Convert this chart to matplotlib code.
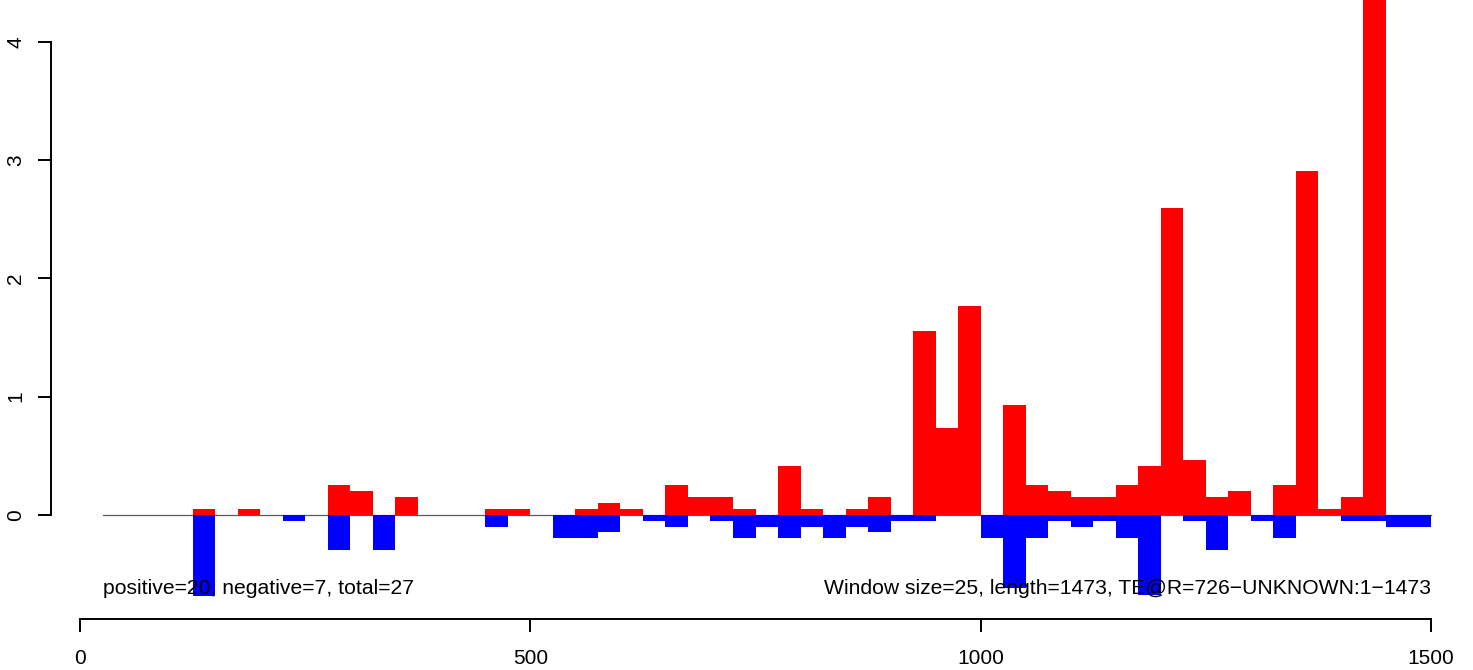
import matplotlib
matplotlib.use('Agg')
import matplotlib.pyplot as plt

plt.rcParams['font.family'] = ['Liberation Sans', 'DejaVu Sans']

window = 25
seq_length = 1473

# signal per 25 bp window (windows 1..59)
positive = [0, 0, 0, 0, 0.05, 0, 0.05, 0, 0, 0,
            0.25, 0.2, 0, 0.15, 0, 0, 0, 0.05, 0.05, 0,
            0, 0.05, 0.1, 0.05, 0, 0.25, 0.15, 0.15, 0.05, 0,
            0.41, 0.05, 0, 0.05, 0.15, 0, 1.555, 0.73, 1.77, 0,
            0.93, 0.25, 0.2, 0.15, 0.15, 0.25, 0.41, 2.6, 0.46, 0.15,
            0.2, 0, 0.25, 2.91, 0.05, 0.15, 4.4, 0, 0]
negative = [0, 0, 0, 0, 0.69, 0, 0, 0, 0.05, 0,
            0.3, 0, 0.3, 0, 0, 0, 0, 0.1, 0, 0,
            0.2, 0.2, 0.15, 0, 0.05, 0.1, 0, 0.05, 0.2, 0.1,
            0.2, 0.1, 0.2, 0.1, 0.15, 0.05, 0.05, 0, 0, 0.2,
            0.62, 0.2, 0.05, 0.1, 0.05, 0.2, 0.68, 0, 0.05, 0.3,
            0, 0.05, 0.2, 0, 0, 0.05, 0.05, 0.1, 0.1]

starts = [window * (i + 1) for i in range(len(positive))]

fig = plt.figure(figsize=(14.73, 6.70), dpi=100)
ax = fig.add_axes([51 / 1473, 51 / 670, 1 - 51 / 1473, 1 - 51 / 670])

ax.plot([starts[0], starts[-1] + window], [0, 0], color='#5a5a5a', lw=0.9, zorder=1)
ax.bar(starts, positive, width=window, align='edge', color='#ff0000', linewidth=0, zorder=2)
ax.bar(starts, [-v for v in negative], width=window, align='edge', color='#0000ff', linewidth=0, zorder=2)

ax.text(starts[0], -0.675, 'positive=20, negative=7, total=27', ha='left', va='baseline', fontsize=15.2)
ax.text(1500, -0.675, f'Window size={window}, length={seq_length}, TE@R=726\u2212UNKNOWN:1\u22121473',
        ha='right', va='baseline', fontsize=15.2)

ax.set_xlim(-32.2, 1546.6)
ax.set_ylim(-0.883, 4.358)

for s in ['top', 'right']:
    ax.spines[s].set_visible(False)
ax.spines['left'].set_bounds(0, 4)
ax.spines['bottom'].set_bounds(0, 1500)
ax.spines['left'].set_linewidth(1.4)
ax.spines['bottom'].set_linewidth(1.4)

ax.set_xticks([0, 500, 1000, 1500])
ax.set_yticks([0, 1, 2, 3, 4])
ax.tick_params(direction='out', length=9.6, width=1.4, labelsize=15)
ax.tick_params(axis='x', pad=12)
ax.tick_params(axis='y', pad=9)
plt.setp(ax.get_yticklabels(), rotation=90, va='center')

fig.savefig('out.png', dpi=100)
